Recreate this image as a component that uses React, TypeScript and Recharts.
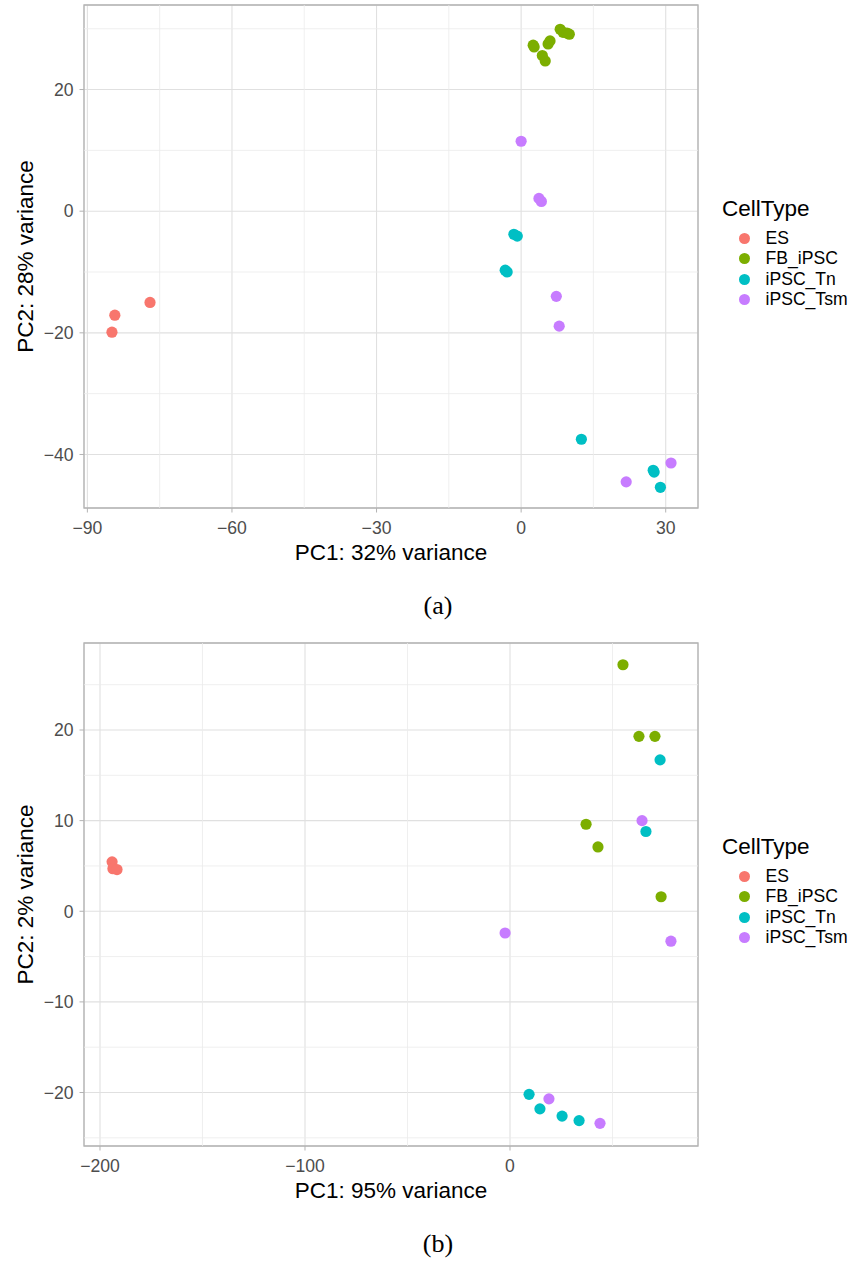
import React from 'react';
import {
  ScatterChart,
  Scatter,
  XAxis,
  YAxis,
  CartesianGrid,
  ReferenceLine,
  ReferenceArea,
  Label,
} from 'recharts';

type Pt = { x: number; y: number };

const CELL_TYPES = ['ES', 'FB_iPSC', 'iPSC_Tn', 'iPSC_Tsm'];
const COLORS = ['#F8766D', '#7CAE00', '#00BFC4', '#C77CFF'];

// panel (a)
const esA: Pt[] = [
  { x: -84.9, y: -19.9 },
  { x: -84.3, y: -17.1 },
  { x: -77.0, y: -15.0 },
];
const fbA: Pt[] = [
  { x: 2.7, y: 27.0 },
  { x: 2.5, y: 27.3 },
  { x: 4.4, y: 25.6 },
  { x: 5.0, y: 24.7 },
  { x: 5.6, y: 27.5 },
  { x: 6.0, y: 28.0 },
  { x: 8.1, y: 29.9 },
  { x: 8.7, y: 29.4 },
  { x: 9.5, y: 29.3 },
  { x: 10.0, y: 29.1 },
];
const tnA: Pt[] = [
  { x: -1.5, y: -3.8 },
  { x: -0.8, y: -4.1 },
  { x: -3.3, y: -9.7 },
  { x: -2.9, y: -10.0 },
  { x: 12.5, y: -37.5 },
  { x: 27.4, y: -42.6 },
  { x: 27.6, y: -42.9 },
  { x: 28.9, y: -45.4 },
];
const tsmA: Pt[] = [
  { x: 0.0, y: 11.5 },
  { x: 3.7, y: 2.1 },
  { x: 4.2, y: 1.6 },
  { x: 7.3, y: -14.0 },
  { x: 7.9, y: -18.9 },
  { x: 21.8, y: -44.5 },
  { x: 31.1, y: -41.4 },
];
const xTicksA = [-90, -60, -30, 0, 30];
const yTicksA = [-40, -20, 0, 20];
const xMinorA = [-75, -45, -15, 15];
const yMinorA = [-30, -10, 10, 30];

// panel (b)
const esB: Pt[] = [
  { x: -194.1, y: 5.45 },
  { x: -193.7, y: 4.7 },
  { x: -191.7, y: 4.6 },
];
const fbB: Pt[] = [
  { x: 55.1, y: 27.2 },
  { x: 62.9, y: 19.3 },
  { x: 70.7, y: 19.3 },
  { x: 37.1, y: 9.6 },
  { x: 42.9, y: 7.1 },
  { x: 73.7, y: 1.6 },
];
const tnB: Pt[] = [
  { x: 73.2, y: 16.7 },
  { x: 66.3, y: 8.8 },
  { x: 9.3, y: -20.2 },
  { x: 14.6, y: -21.8 },
  { x: 25.4, y: -22.6 },
  { x: 33.7, y: -23.1 },
];
const tsmB: Pt[] = [
  { x: 64.4, y: 10.0 },
  { x: 78.5, y: -3.3 },
  { x: -2.4, y: -2.4 },
  { x: 19.0, y: -20.7 },
  { x: 43.9, y: -23.4 },
];
const xTicksB = [-200, -100, 0];
const yTicksB = [-20, -10, 0, 10, 20];
const xMinorB = [-150, -50, 50];
const yMinorB = [-25, -15, -5, 5, 15, 25];

const FONT = '"Liberation Sans", Arial, sans-serif';
const fmt = (v: number) => (v < 0 ? '\u2212' + Math.abs(v) : String(v));

interface PanelProps {
  series: Pt[][];
  xDomain: [number, number];
  yDomain: [number, number];
  xTicks: number[];
  yTicks: number[];
  xMinor: number[];
  yMinor: number[];
  xLabel: string;
  yLabel: string;
  caption: string;
}

function PcaPanel(props: PanelProps) {
  const { series, xDomain, yDomain, xTicks, yTicks, xMinor, yMinor, xLabel, yLabel, caption } = props;
  const tick = { fontSize: 17.6, fill: '#4d4d4d', fontFamily: FONT };
  return (
    <div style={{ position: 'relative', width: 858, height: 640 }}>
      <ScatterChart width={858} height={575} margin={{ top: 5, right: 160, left: 0, bottom: 0 }}>
        <CartesianGrid stroke='#e0e0e0' strokeWidth={1.1} />
        {xMinor.map(v => (
          <ReferenceLine key={'xm' + v} x={v} stroke='#ebebeb' strokeWidth={0.8} />
        ))}
        {yMinor.map(v => (
          <ReferenceLine key={'ym' + v} y={v} stroke='#ebebeb' strokeWidth={0.8} />
        ))}
        <XAxis
          type='number'
          dataKey='x'
          domain={xDomain}
          ticks={xTicks}
          allowDataOverflow
          axisLine={false}
          tickLine={{ stroke: '#b3b3b3' }}
          tickSize={4.5}
          tickMargin={9}
          tickFormatter={fmt}
          tick={tick}
          height={67}
        >
          <Label
            content={(p: any) => (
              <text
                x={p.viewBox.x + p.viewBox.width / 2}
                y={p.viewBox.y + 52}
                textAnchor='middle'
                fontSize={22.5}
                fontFamily={FONT}
                fill='#000'
              >
                {xLabel}
              </text>
            )}
          />
        </XAxis>
        <YAxis
          type='number'
          dataKey='y'
          domain={yDomain}
          ticks={yTicks}
          allowDataOverflow
          axisLine={false}
          tickLine={{ stroke: '#b3b3b3' }}
          tickSize={4.5}
          tickMargin={6}
          tickFormatter={fmt}
          tick={tick}
          width={84}
        >
          <Label
            content={(p: any) => {
              const cy = p.viewBox.y + p.viewBox.height / 2;
              return (
                <text
                  x={32.5}
                  y={cy}
                  transform={`rotate(-90 32.5 ${cy})`}
                  textAnchor='middle'
                  fontSize={22.5}
                  fontFamily={FONT}
                  fill='#000'
                >
                  {yLabel}
                </text>
              );
            }}
          />
        </YAxis>
        <ReferenceArea
          x1={xDomain[0]}
          x2={xDomain[1]}
          y1={yDomain[0]}
          y2={yDomain[1]}
          fill='none'
          stroke='#b3b3b3'
          strokeWidth={1.3}
          ifOverflow='visible'
        />
        {series.map((pts, i) => (
          <Scatter
            key={CELL_TYPES[i]}
            name={CELL_TYPES[i]}
            data={pts}
            isAnimationActive={false}
            shape={(s: any) => <circle cx={s.cx} cy={s.cy} r={5.6} fill={COLORS[i]} />}
          />
        ))}
      </ScatterChart>
      <div
        style={{
          position: 'absolute',
          left: 722,
          top: 196,
          fontFamily: FONT,
        }}
      >
        <div style={{ fontSize: 22.5, color: '#000', lineHeight: '26px', marginBottom: 6 }}>CellType</div>
        {CELL_TYPES.map((c, i) => (
          <div key={c} style={{ display: 'flex', alignItems: 'center', height: 20.5 }}>
            <span
              style={{
                display: 'inline-block',
                width: 11,
                height: 11,
                borderRadius: '50%',
                background: COLORS[i],
                marginLeft: 16.5,
                marginRight: 16,
              }}
            />
            <span style={{ fontSize: 17.6, color: '#000' }}>{c}</span>
          </div>
        ))}
      </div>
      <div
        style={{
          position: 'absolute',
          left: 0,
          width: 876,
          top: 591,
          textAlign: 'center',
          fontFamily: '"Liberation Serif", "DejaVu Serif", serif',
          fontSize: 26,
          color: '#000',
        }}
      >
        {caption}
      </div>
    </div>
  );
}

export default function App() {
  return (
    <div style={{ position: 'absolute', left: 0, top: 0, width: 858, height: 1264, background: '#fff' }}>
      <PcaPanel
        series={[esA, fbA, tnA, tsmA]}
        xDomain={[-90.7, 36.7]}
        yDomain={[-48.8, 33.9]}
        xTicks={xTicksA}
        yTicks={yTicksA}
        xMinor={xMinorA}
        yMinor={yMinorA}
        xLabel='PC1: 32% variance'
        yLabel='PC2: 28% variance'
        caption='(a)'
      />
      <div style={{ position: 'absolute', left: 0, top: 638 }}>
        <PcaPanel
          series={[esB, fbB, tnB, tsmB]}
          xDomain={[-207.8, 91.7]}
          yDomain={[-25.9, 29.6]}
          xTicks={xTicksB}
          yTicks={yTicksB}
          xMinor={xMinorB}
          yMinor={yMinorB}
          xLabel='PC1: 95% variance'
          yLabel='PC2: 2% variance'
          caption='(b)'
        />
      </div>
    </div>
  );
}
